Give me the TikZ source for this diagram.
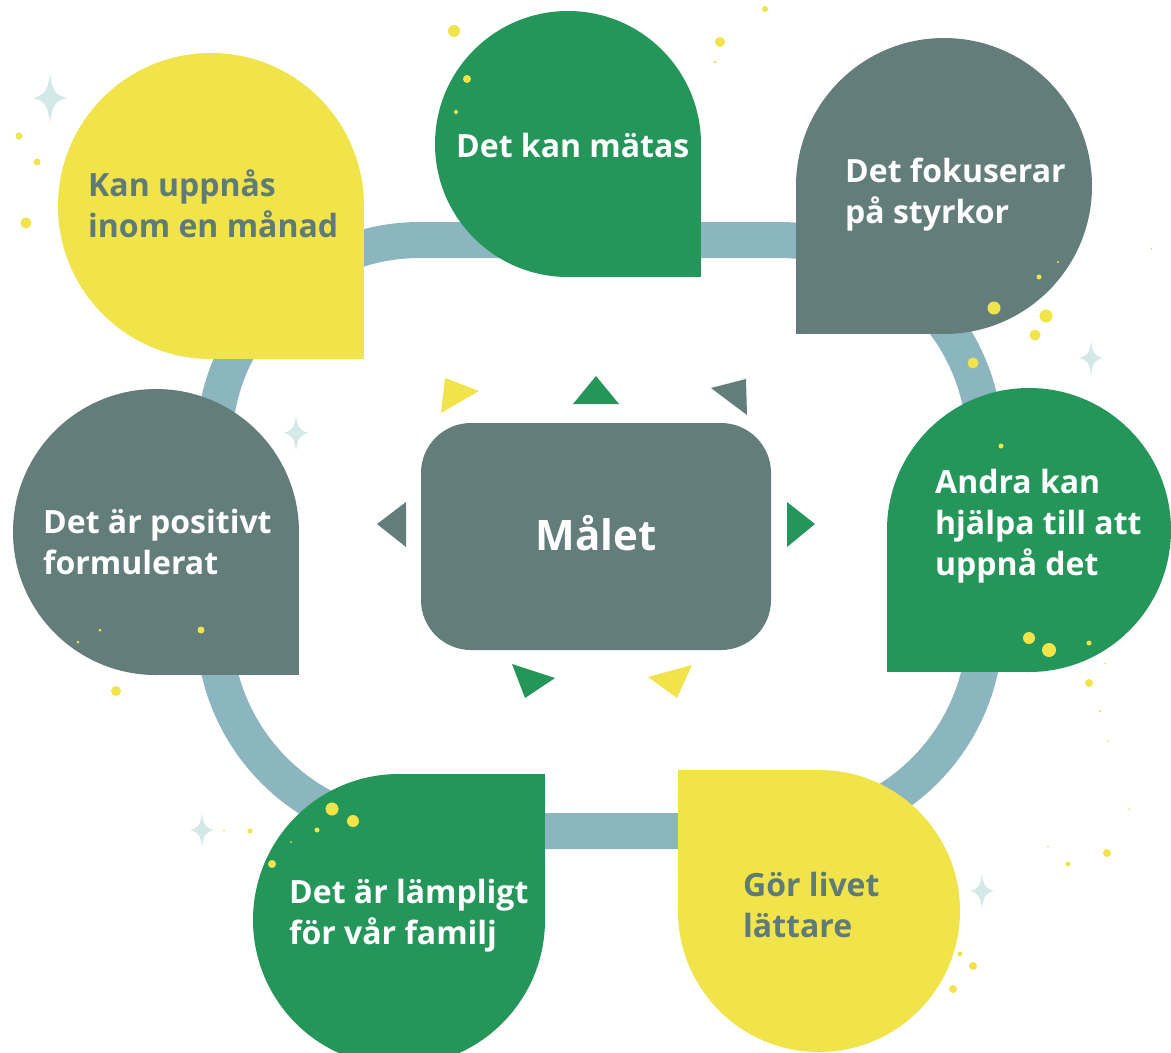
\documentclass[tikz,border=0pt]{standalone}
\usepackage{fontspec}
\setmainfont{Open Sans}
\definecolor{cyellow}{HTML}{F1E34A}
\definecolor{cgreen}{HTML}{24965A}
\definecolor{cgray}{HTML}{627D7A}
\definecolor{cring}{HTML}{8BB5BF}
\definecolor{cstar}{HTML}{D2E9E8}
\definecolor{ctext}{HTML}{5F7B78}
\newcommand\mydrop[6]{%
  \fill[#1] (#2,#3) circle[radius=#4];
  \fill[#1] (#2,#3) rectangle ++(#5*#4,#6*#4);}
\newcommand\mysparkle[4]{%
  \fill[cstar] (#1,#2-#4) .. controls (#1+0.12*#3,#2-0.3*#4) and (#1+0.3*#3,#2-0.12*#4) .. (#1+#3,#2)
    .. controls (#1+0.3*#3,#2+0.12*#4) and (#1+0.12*#3,#2+0.3*#4) .. (#1,#2+#4)
    .. controls (#1-0.12*#3,#2+0.3*#4) and (#1-0.3*#3,#2+0.12*#4) .. (#1-#3,#2)
    .. controls (#1-0.3*#3,#2-0.12*#4) and (#1-0.12*#3,#2-0.3*#4) .. (#1,#2-#4) -- cycle;}
\newcommand\mydot[3]{\fill[cyellow] (#1,#2) circle[radius=#3];}
\tikzset{
  ring/.style={draw=cring, line width=36pt, rounded corners=206pt},
  lbl/.style={inner sep=0pt, anchor=base west, align=left,
    font=\fontsize{32}{41}\selectfont\bfseries},
  onlight/.style={text=ctext},
  ondark/.style={text=white},
}
\begin{document}
\begin{tikzpicture}[x=1pt,y=-1pt]
\useasboundingbox (0,0) rectangle (1171,1053);
\clip (0,0) rectangle (1171,1053);
\fill[white] (0,0) rectangle (1171,1053);
% ring
\draw[ring] (214,240) rectangle (985,831);
% drops
\mydrop{cyellow}{211}{206}{153}{1}{1}
\mydrop{cgreen}{568}{144}{133}{1}{1}
\mydrop{cgray}{944}{186}{148}{-1}{1}
\mydrop{cgray}{156}{532}{143}{1}{1}
\mydrop{cgreen}{1029}{530}{142}{-1}{1}
\mydrop{cgreen}{399}{920}{146}{1}{-1}
\mydrop{cyellow}{819}{911}{141}{-1}{-1}
% centre
\fill[cgray, rounded corners=50pt] (421,423) rectangle (771,650);
% triangles
\fill[cyellow] (445,378) -- (479,391) -- (441,413) -- cycle;
\fill[cgreen] (596,376) -- (573,404) -- (619,404) -- cycle;
\fill[cgray] (746,379) -- (711,388) -- (747,415) -- cycle;
\fill[cgray] (406,502) -- (377,524) -- (406,547) -- cycle;
\fill[cgreen] (787,502) -- (815,524) -- (787,547) -- cycle;
\fill[cgreen] (512,664) -- (555,678) -- (525,698) -- cycle;
\fill[cyellow] (648,677) -- (692,665) -- (677,698) -- cycle;
% sparkles
\mysparkle{50}{98}{17}{25}
\mysparkle{296}{433}{12.5}{18}
\mysparkle{1091}{358}{12}{17}
\mysparkle{202}{830}{12}{17}
\mysparkle{982}{891}{12}{17.5}
% dots
\mydot{454}{31}{6}\mydot{467}{79}{4}\mydot{456}{112}{2}
\mydot{720}{42}{5}\mydot{765}{9}{3}\mydot{715}{62}{1.5}
\mydot{19}{136}{3.5}\mydot{37}{162}{3.5}\mydot{26}{223}{5.5}
\mydot{994}{308}{6.5}\mydot{1046}{316}{6.5}\mydot{1035}{335}{5.5}
\mydot{973}{363}{5.5}\mydot{1039}{277}{2.5}\mydot{1058}{262}{1.2}\mydot{1151}{249}{1}
\mydot{201}{630}{3.5}\mydot{100}{630}{1.5}\mydot{78}{642}{1.5}\mydot{116}{691}{5}
\mydot{1001}{446}{2.5}\mydot{1029}{638}{6}\mydot{1049}{650}{7}
\mydot{1089}{643}{2.5}\mydot{1105}{663}{1}\mydot{1089}{683}{4}
\mydot{1100}{711}{1.5}\mydot{1108}{741}{1}
\mydot{1107}{853}{4}\mydot{1068}{864}{2.5}\mydot{1048}{846}{1}\mydot{1129}{809}{1}
\mydot{960}{954}{2.5}\mydot{973}{966}{4}\mydot{953}{989}{4}
\mydot{332}{809}{6.5}\mydot{353}{821}{6}\mydot{317}{830}{2.5}
\mydot{291}{842}{1}\mydot{272}{864}{4}\mydot{250}{831}{2.5}\mydot{224}{830}{1}
% labels (anchor = baseline of last line)
\node[lbl, onlight] (t1) at (88,237) {Kan uppnås\\inom en månad};
\node[lbl, ondark] (t2) at (456,157) {Det kan mätas};
\node[lbl, ondark] (t3) at (845,223) {Det fokuserar\\på styrkor};
\node[lbl, ondark] (t4) at (43,574) {Det är positivt\\formulerat};
\node[lbl, ondark] (t5) at (935,575) {Andra kan\\hjälpa till att\\uppnå det};
\node[lbl, ondark] (t6) at (289,944) {Det är lämpligt\\för vår familj};
\node[lbl, onlight] (t7) at (743,937) {Gör livet\\lättare};
\node[inner sep=0pt, anchor=base, text=white, font=\fontsize{42}{48}\selectfont\bfseries] (goal) at (596,550) {Målet};
\end{tikzpicture}
\end{document}
